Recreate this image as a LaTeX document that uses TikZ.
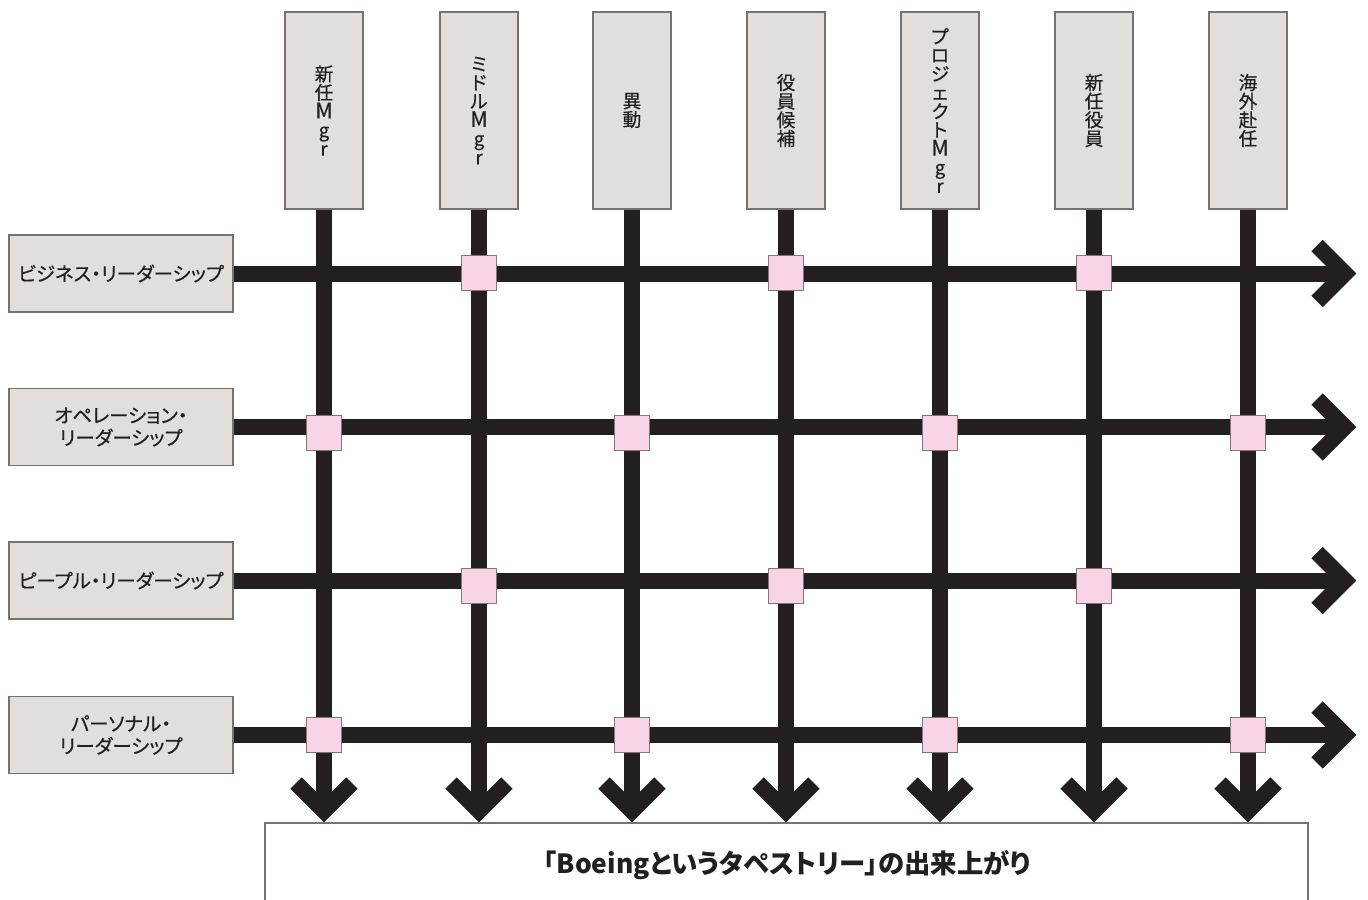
\documentclass[tikz,border=0pt]{standalone}
\usepackage{fontspec}
\setmainfont{Noto Sans CJK JP}[RawFeature=+palt]
\newfontfamily\medfont{Noto Sans CJK JP}[RawFeature=+palt, FakeBold=0.35]
\newcommand{\latsize}{\fontsize{16}{14}\selectfont}
\definecolor{ink}{HTML}{231F20}
\definecolor{boxfill}{HTML}{E2DEDC}
\definecolor{boxline}{HTML}{767272}
\definecolor{knotfill}{HTML}{F8D5E6}
\definecolor{knotline}{HTML}{857579}
\begin{document}
\begin{tikzpicture}[x=0.75pt,y=-0.75pt,
  topbox/.style={draw=boxline, fill=boxfill, line width=0.9pt, minimum width=58.5pt, minimum height=147.75pt, inner sep=0pt, font=\medfont\fontsize{14}{14}\selectfont, align=center, text=ink},
  leftbox/.style={draw=boxline, fill=boxfill, line width=0.9pt, minimum width=168pt, minimum height=57.75pt, inner sep=0pt, font=\medfont\fontsize{14.6}{16.8}\selectfont, align=center, text=ink},
  knot/.style={draw=knotline, fill=knotfill, line width=0.75pt, minimum size=26.25pt, inner sep=0pt},
  thread/.style={draw=ink, line width=12pt},
  chevron/.style={draw=ink, line width=12pt, line join=miter, miter limit=10}]
\useasboundingbox (0,0) rectangle (1368,900);

% top boxes
\node[topbox] (t1) at (324,110.5) {新\\任\\\latsize M\\g\\r};
\node[topbox] (t2) at (479,110.5) {ミ\\ド\\ル\\\latsize M\\g\\r};
\node[topbox] (t3) at (632,110.5) {異\\動};
\node[topbox] (t4) at (786,110.5) {役\\員\\候\\補};
\node[topbox] (t5) at (940,110.5) {プ\\ロ\\ジ\\ェ\\ク\\ト\\\latsize M\\g\\r};
\node[topbox] (t6) at (1094,110.5) {新\\任\\役\\員};
\node[topbox] (t7) at (1248,110.5) {海\\外\\赴\\任};

% left boxes
\node[leftbox] (l1) at (121,273.5) {ビジネス・リーダーシップ};
\node[leftbox] (l2) at (121,427) {オペレーション・\\リーダーシップ};
\node[leftbox] (l3) at (121,580.5) {ピープル・リーダーシップ};
\node[leftbox] (l4) at (121,735) {パーソナル・\\リーダーシップ};

% arrow end points
\foreach \i/\x in {1/324,2/479,3/632,4/786,5/940,6/1094,7/1248}
  \coordinate (v\i) at (\x,811);
\foreach \j/\y in {1/273.5,2/427,3/580.5,4/735}
  \coordinate (h\j) at (1345,\y);

% vertical threads
\foreach \i in {1,...,7}{
  \draw[thread] (t\i.south) -- (v\i);
  \draw[chevron] (v\i) ++(-28,-28) -- (v\i) -- ++(28,-28);
}
% horizontal threads
\foreach \j in {1,...,4}{
  \draw[thread] (l\j.east) -- (h\j);
  \draw[chevron] (h\j) ++(-28,-28) -- (h\j) -- ++(-28,28);
}

% knots
\foreach \x in {479,786,1094} \node[knot] at (\x,273) {};
\foreach \x in {324,632,940,1248} \node[knot] at (\x,433) {};
\foreach \x in {479,786,1094} \node[knot] at (\x,585.5) {};
\foreach \x in {324,632,940,1248} \node[knot] at (\x,735) {};

% result box (open at bottom)
\draw[boxline, line width=0.9pt] (265,900) -- (265,823) -- (1308,823) -- (1308,900);
\node[font=\fontsize{19.8}{19.8}\selectfont\bfseries, text=ink] (result) at (787,865) {「Boeingというタペストリー」の出来上がり};
\end{tikzpicture}
\end{document}
